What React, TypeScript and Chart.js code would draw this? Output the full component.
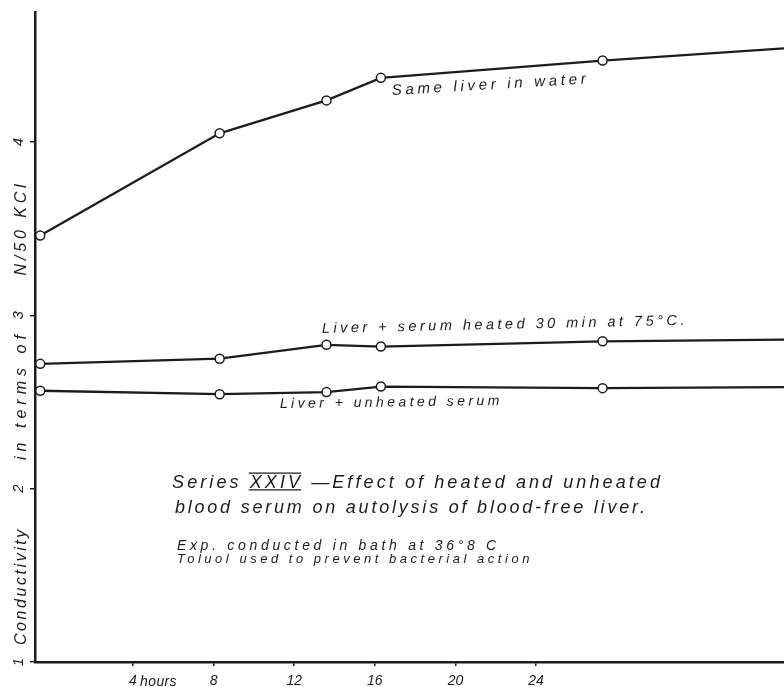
import React, { useEffect, useRef } from "react";
import { Chart, registerables } from "chart.js";

Chart.register(...registerables);

// ---- data ----
const hours = [-0.6, 8.3, 13.6, 16.3, 27.3, 36.3];
const waterValues = [3.46, 4.05, 4.24, 4.37, 4.47, 4.54];
const heatedValues = [2.72, 2.75, 2.83, 2.82, 2.85, 2.86];
const unheatedValues = [2.565, 2.545, 2.557, 2.589, 2.58, 2.586];
// last entry is where the line leaves the frame (no marker)
const markerShown = [true, true, true, true, true, false];

const xTickValues = [4, 8, 12, 16, 20, 24];
const xTickLabels = ["4", "8", "12", "16", "20", "24"];
const yTickValues = [1, 2, 3, 4];
const yTickLabels = ["1", "2", "3", "4"];

const seriesNames = [
  "Same liver in water",
  "Liver + serum heated 30 min at 75°C",
  "Liver + unheated serum",
];

const HAND = '"Liberation Sans", "DejaVu Sans", sans-serif';
const INK = "#1c1c1c";

type Note = {
  text: string;
  t: number;
  v: number;
  width: number;
  size: number;
  angle: number;
  bar?: string;
};

// free text on the sheet, anchored in data coordinates
const notes: Note[] = [
  { text: "Same liver in water", t: 16.85, v: 4.271, width: 198, size: 15, angle: -3.4 },
  { text: "Liver + serum heated 30 min at 75°C.", t: 13.38, v: 2.898, width: 366, size: 14.5, angle: -1.3 },
  { text: "Liver + unheated serum", t: 11.29, v: 2.465, width: 223, size: 14, angle: -0.8 },
  { text: "Series XXIV —Effect of heated and unheated", t: 5.94, v: 2.004, width: 491, size: 18, angle: 0, bar: "XXIV" },
  { text: "blood serum on autolysis of blood-free liver.", t: 6.08, v: 1.86, width: 473, size: 18, angle: 0 },
  { text: "Exp. conducted in bath at 36°8 C", t: 6.18, v: 1.646, width: 323, size: 14, angle: 0 },
  { text: "Toluol used to prevent bacterial action", t: 6.18, v: 1.571, width: 356, size: 13, angle: 0 },
  { text: "hours", t: 4.35, v: 0.861, width: 37, size: 14, angle: 0 },
];

// y-axis title, written in pieces between the tick numerals
const yTitleParts = [
  { text: "Conductivity", v: 1.438, width: 118 },
  { text: "in terms of", v: 2.54, width: 130 },
  { text: "N/50 KCl", v: 3.504, width: 95 },
];

function fitText(ctx: CanvasRenderingContext2D, text: string, target: number) {
  (ctx as any).letterSpacing = "0px";
  const w = ctx.measureText(text).width;
  const n = Math.max(1, text.length);
  const ls = (target - w) / n;
  (ctx as any).letterSpacing = `${ls}px`;
  return ls;
}

const handPlugin = {
  id: "handNotes",
  afterDraw(chart: any) {
    const ctx: CanvasRenderingContext2D = chart.ctx;
    const xs = chart.scales.x;
    const ys = chart.scales.y;
    ctx.save();
    ctx.fillStyle = INK;
    ctx.strokeStyle = INK;
    for (const n of notes) {
      const px = xs.getPixelForValue(n.t);
      const py = ys.getPixelForValue(n.v);
      ctx.save();
      ctx.translate(px, py);
      ctx.rotate((n.angle * Math.PI) / 180);
      ctx.font = `italic ${n.size}px ${HAND}`;
      ctx.textAlign = "left";
      ctx.textBaseline = "alphabetic";
      fitText(ctx, n.text, n.width);
      ctx.fillText(n.text, 0, 0);
      if (n.bar) {
        const idx = n.text.indexOf(n.bar);
        const pre = ctx.measureText(n.text.slice(0, idx)).width;
        const bw = ctx.measureText(n.bar).width;
        ctx.lineWidth = 1.2;
        ctx.beginPath();
        ctx.moveTo(pre - 1, -n.size * 0.82);
        ctx.lineTo(pre + bw - 2, -n.size * 0.82);
        ctx.moveTo(pre - 1, 2);
        ctx.lineTo(pre + bw - 2, 2);
        ctx.stroke();
      }
      ctx.restore();
    }
    for (const p of yTitleParts) {
      const py = ys.getPixelForValue(p.v);
      ctx.save();
      ctx.translate(22, py);
      ctx.rotate(-Math.PI / 2);
      ctx.font = `italic 16px ${HAND}`;
      ctx.textAlign = "center";
      ctx.textBaseline = "middle";
      fitText(ctx, p.text, p.width);
      ctx.fillText(p.text, 0, 0);
      ctx.restore();
    }
    ctx.restore();
  },
};

function makeSet(label: string, values: number[]) {
  return {
    label,
    data: hours.map((h, i) => ({ x: h, y: values[i] })),
    borderColor: INK,
    borderWidth: 2.3,
    backgroundColor: "#ffffff",
    pointBackgroundColor: "#ffffff",
    pointBorderColor: INK,
    pointBorderWidth: 1.5,
    pointRadius: markerShown.map((m) => (m ? 4.5 : 0)),
    pointHoverRadius: markerShown.map((m) => (m ? 4.5 : 0)),
    tension: 0,
    fill: false,
  };
}

export default function App() {
  const ref = useRef<HTMLCanvasElement | null>(null);
  useEffect(() => {
    if (!ref.current) return;
    const chart = new Chart(ref.current, {
      type: "line",
      data: {
        datasets: [
          makeSet(seriesNames[0], waterValues),
          makeSet(seriesNames[1], heatedValues),
          makeSet(seriesNames[2], unheatedValues),
        ],
      },
      options: {
        animation: false,
        responsive: true,
        maintainAspectRatio: false,
        layout: { autoPadding: false, padding: { top: 12, right: 0, left: 0, bottom: 0 } },
        plugins: {
          legend: { display: false },
          tooltip: { enabled: false },
          title: { display: false },
        },
        scales: {
          x: {
            type: "linear",
            min: -0.86,
            max: 36.3,
            afterBuildTicks: (s: any) => {
              s.ticks = xTickValues.map((v) => ({ value: v }));
            },
            afterFit: (s: any) => {
              s.height = 25;
              s.paddingLeft = 0;
              s.paddingRight = 0;
            },
            ticks: {
              autoSkip: false,
              maxRotation: 0,
              minRotation: 0,
              padding: 7,
              color: INK,
              font: { family: HAND, size: 14, style: "italic" },
              callback: (v: any) => {
                const i = xTickValues.indexOf(Number(v));
                return i >= 0 ? xTickLabels[i] : "";
              },
            },
            grid: {
              display: true,
              drawOnChartArea: false,
              drawTicks: true,
              tickLength: 4,
              color: INK,
              lineWidth: 1.5,
            },
            border: { display: true, color: INK, width: 2.5 },
          },
          y: {
            type: "linear",
            min: 1,
            max: 4.75,
            afterBuildTicks: (s: any) => {
              s.ticks = yTickValues.map((v) => ({ value: v }));
            },
            afterFit: (s: any) => {
              s.width = 35;
              s.paddingTop = 0;
              s.paddingBottom = 0;
            },
            ticks: {
              autoSkip: false,
              minRotation: 90,
              maxRotation: 90,
              crossAlign: "center",
              padding: 7,
              color: INK,
              font: { family: HAND, size: 15, style: "italic" },
              callback: (v: any) => {
                const i = yTickValues.indexOf(Number(v));
                return i >= 0 ? yTickLabels[i] : "";
              },
            },
            grid: {
              display: true,
              drawOnChartArea: false,
              drawTicks: true,
              tickLength: 5,
              color: INK,
              lineWidth: 1.5,
            },
            border: { display: true, color: INK, width: 2.5 },
          },
        },
      } as any,
      plugins: [handPlugin],
    });
    return () => chart.destroy();
  }, []);

  return (
    <div
      style={{
        position: "absolute",
        left: 0,
        top: 0,
        width: 784,
        height: 687,
        background: "#ffffff",
      }}
    >
      <canvas ref={ref} />
    </div>
  );
}
